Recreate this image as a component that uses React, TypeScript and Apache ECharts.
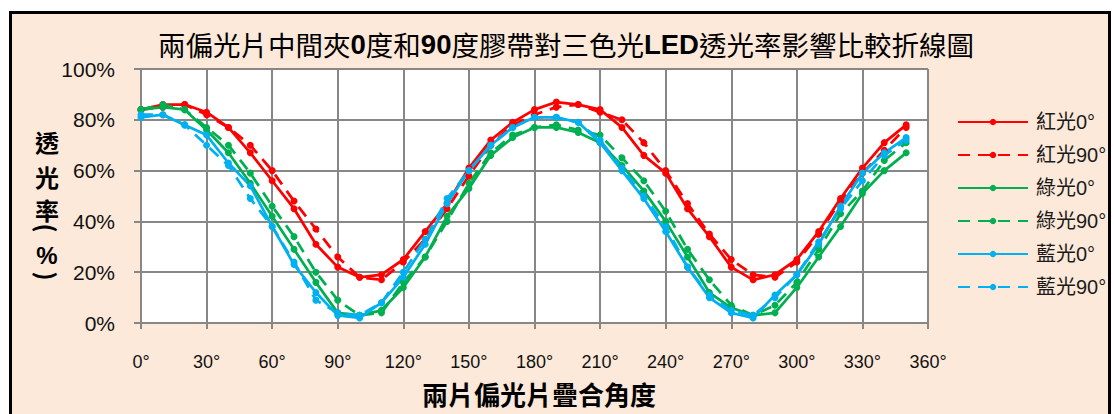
import React, { useEffect, useRef } from "react";
import * as echarts from "echarts";

// Angle between the two polarizers (degrees)
const angles = [
  0, 10, 20, 30, 40, 50, 60, 70, 80, 90, 100, 110, 120, 130, 140, 150, 160, 170,
  180, 190, 200, 210, 220, 230, 240, 250, 260, 270, 280, 290, 300, 310, 320, 330, 340, 350,
];

// Transmittance (%) per LED colour, tape at 0° and at 90°
const red0 = [84, 86, 86, 83, 77, 67, 56, 45, 31, 22, 18, 19, 25, 36, 47, 61, 72, 79, 84, 87, 86, 84, 77, 66, 59, 45, 34, 22, 17, 19, 25, 36, 49, 61, 71, 78];
const red90 = [84, 85, 86, 82, 77, 70, 60, 48, 37, 26, 18, 17, 24, 33, 45, 58, 70, 78, 82, 85, 86, 83, 80, 71, 60, 47, 35, 25, 19, 18, 24, 35, 48, 59, 68, 77];
const green0 = [84, 85, 84, 76, 67, 55, 42, 29, 16, 4, 3, 5, 14, 26, 42, 53, 66, 73, 77, 77, 75, 71, 62, 52, 40, 26, 12, 6, 3, 4, 14, 26, 38, 51, 60, 67];
const green90 = [84, 86, 84, 77, 70, 59, 46, 34, 20, 9, 3, 4, 16, 26, 40, 55, 67, 74, 77, 78, 76, 74, 65, 56, 44, 29, 17, 7, 3, 7, 16, 29, 43, 52, 64, 71];
const blue0 = [81, 82, 78, 74, 63, 54, 38, 23, 12, 3, 2, 8, 18, 31, 47, 60, 70, 77, 81, 81, 79, 71, 60, 49, 36, 22, 10, 4, 2, 11, 19, 31, 46, 59, 67, 73];
const blue90 = [82, 82, 78, 70, 62, 49, 38, 24, 9, 4, 3, 8, 20, 33, 49, 60, 70, 77, 81, 81, 79, 72, 61, 50, 38, 22, 11, 5, 3, 10, 19, 32, 45, 56, 66, 72];

const seriesNames = ["紅光0°", "紅光90°", "綠光0°", "綠光90°", "藍光0°", "藍光90°"];

const RED = "#FF0000";
const GREEN = "#00B050";
const BLUE = "#00B0F0";
const GRID = "#878787";
const FONT = '"Liberation Sans", "Noto Sans CJK TC", sans-serif';
const CJK = '"Noto Sans CJK TC", sans-serif';

export default function App() {
  const ref = useRef<HTMLDivElement>(null);

  useEffect(() => {
    const chart = echarts.init(ref.current!, null, { renderer: "svg" });

    const line = (name: string, values: number[], color: string, dashed: boolean) => ({
      name,
      type: "line",
      data: angles.map((a, i) => [a, values[i]]),
      symbol: "circle",
      symbolSize: 7,
      showSymbol: true,
      lineStyle: { color, width: 2.75, type: dashed ? [12, 8] : "solid" },
      itemStyle: { color },
      emphasis: { disabled: true },
      silent: true,
    });

    // Vertical y-axis caption, one glyph per row; brackets are turned sideways
    const yNameChars = [
      { t: "透", y: 141, r: 0 },
      { t: "光", y: 176, r: 0 },
      { t: "率", y: 209, r: 0 },
      { t: "(", y: 228, r: -Math.PI / 2 },
      { t: "%", y: 255, r: 0 },
      { t: ")", y: 276, r: -Math.PI / 2 },
    ];

    chart.setOption({
      animation: false,
      textStyle: { fontFamily: FONT },
      grid: {
        left: 141,
        top: 69,
        width: 787,
        height: 254,
        show: true,
        backgroundColor: "#ffffff",
        borderWidth: 0,
      },
      xAxis: {
        type: "value",
        min: 0,
        max: 360,
        interval: 30,
        axisLine: { lineStyle: { color: GRID, width: 2 } },
        axisTick: { show: true, length: 6, lineStyle: { color: GRID, width: 2 } },
        axisLabel: {
          formatter: (v: number) => `${v}°`,
          fontSize: 18,
          color: "#111",
          margin: 30,
          showMinLabel: true,
          showMaxLabel: true,
        },
        splitLine: { show: true, lineStyle: { color: GRID, width: 2 } },
      },
      yAxis: {
        type: "value",
        min: 0,
        max: 100,
        interval: 20,
        axisLine: { show: true, lineStyle: { color: GRID, width: 2 } },
        axisTick: { show: true, length: 7, lineStyle: { color: GRID, width: 2 } },
        axisLabel: {
          formatter: (v: number) => `${v}%`,
          fontSize: 21,
          color: "#111",
          margin: 26,
        },
        splitLine: { show: true, lineStyle: { color: GRID, width: 2 } },
      },
      legend: {
        orient: "vertical",
        left: 952,
        top: 106,
        itemWidth: 70,
        itemHeight: 8,
        itemGap: 11,
        data: seriesNames,
        selectedMode: false,
        textStyle: {
          fontSize: 20,
          lineHeight: 22,
          color: "#1a1a1a",
          fontFamily: FONT,
          padding: [0, 0, 0, 3],
        },
      },
      graphic: [
        {
          type: "text",
          x: 566,
          y: 44,
          silent: true,
          style: {
            text:
              "{c|兩偏光片中間夾}{b|0}{c|度和}{b|90}{c|度膠帶對三色光}{b|LED}{c|透光率影響比較折線圖}",
            align: "center",
            verticalAlign: "middle",
            rich: {
              c: { fontSize: 27.5, fontFamily: CJK, fill: "#000" },
              b: { fontSize: 27.5, fontWeight: "bold", fontFamily: FONT, fill: "#000" },
            },
          },
        },
        {
          type: "text",
          x: 539,
          y: 393,
          silent: true,
          style: {
            text: "兩片偏光片疊合角度",
            align: "center",
            verticalAlign: "middle",
            fontSize: 26,
            fontFamily: CJK,
            fontWeight: "bold",
            fill: "#000",
          },
        },
        ...yNameChars.map((c) => ({
          type: "text",
          x: 47,
          y: c.y,
          rotation: c.r,
          silent: true,
          style: {
            text: c.t,
            align: "center",
            verticalAlign: "middle",
            fontSize: 24,
            fontFamily: c.t === "%" ? FONT : CJK,
            fontWeight: "bold",
            fill: "#000",
          },
        })),
      ],
      series: [
        line(seriesNames[0], red0, RED, false),
        line(seriesNames[1], red90, RED, true),
        line(seriesNames[2], green0, GREEN, false),
        line(seriesNames[3], green90, GREEN, true),
        line(seriesNames[4], blue0, BLUE, false),
        line(seriesNames[5], blue90, BLUE, true),
      ],
    });

    return () => chart.dispose();
  }, []);

  return (
    <div
      style={{
        position: "fixed",
        left: 0,
        top: 0,
        width: 1114,
        height: 414,
        overflow: "hidden",
        background: "#ffffff",
      }}
    >
      <div
        style={{
          position: "absolute",
          left: 9,
          top: 11,
          width: 1102,
          height: 440,
          border: "3px solid #000",
          background: "#FDE9D9",
          boxSizing: "border-box",
        }}
      />
      <div ref={ref} style={{ position: "absolute", left: 0, top: 0, width: 1114, height: 414 }} />
    </div>
  );
}
